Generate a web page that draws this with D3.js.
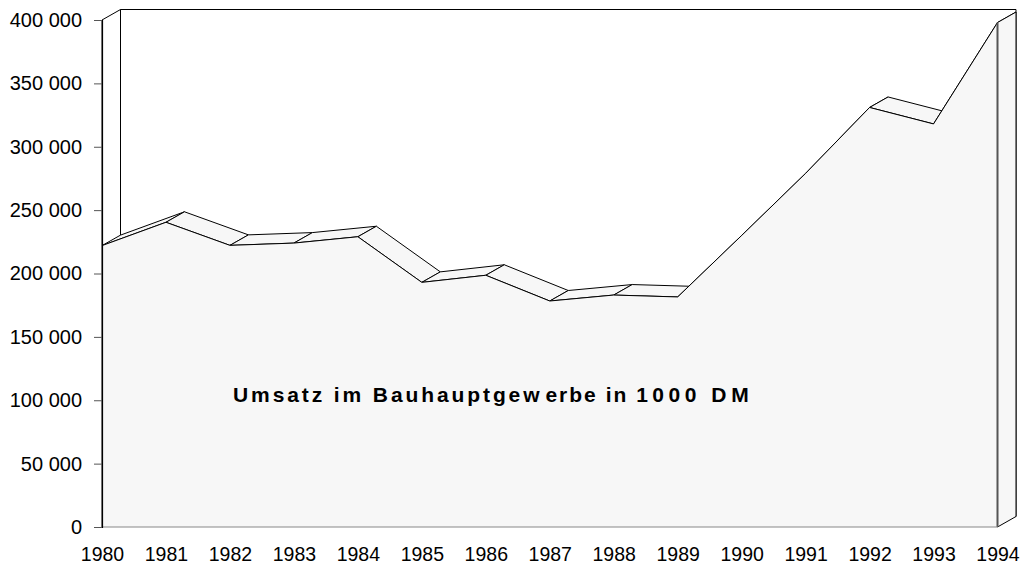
<!DOCTYPE html>
<html>
<head>
<meta charset="utf-8">
<script src="https://cdn.jsdelivr.net/npm/d3@7"></script>
<style>
  html, body { margin: 0; padding: 0; background: #ffffff; }
  svg { display: block; }
  text { font-family: "Liberation Sans", Arial, sans-serif; fill: #000; }
</style>
</head>
<body>
<svg id="chart" width="1024" height="567"></svg>
<script>
// ---- data ----
const years = [1980, 1981, 1982, 1983, 1984, 1985, 1986, 1987, 1988, 1989, 1990, 1991, 1992, 1993, 1994];
const values = [222000, 240400, 222200, 224000, 229000, 193000, 198600, 178300, 183000, 181500, 230000, 279000, 331000, 318000, 398000];
const yTicks = [0, 50000, 100000, 150000, 200000, 250000, 300000, 350000, 400000];
const titleParts = ["Umsatz im Bauhauptgew", "erbe in ", "1000 ", "DM"];

// ---- layout ----
const svg = d3.select("#chart");
const x = d3.scaleLinear().domain([1980, 1994]).range([102, 997.5]);
const y = d3.scaleLinear().domain([0, 400000]).range([527, 20]);
const dx = 18.5, dy = -10.5;
const fill = "#f7f7f7";

const x0 = x.range()[0], x1 = x.range()[1];
const yTop = y(400000), yBot = y(0);
const pts = years.map((yr, i) => [x(yr), y(values[i])]);
const back = p => [p[0] + dx, p[1] + dy];
const poly = arr => "M" + arr.map(p => p.join(",")).join("L") + "Z";

// back wall
svg.append("path")
  .attr("d", poly([[x0 + dx, yTop + dy], [x1 + dx, yTop + dy], [x1 + dx, yBot + dy], [x0 + dx, yBot + dy]]))
  .attr("fill", "#fff").attr("stroke", "#000").attr("stroke-width", 1);
// left side wall
svg.append("path")
  .attr("d", poly([[x0, yTop], [x0 + dx, yTop + dy], [x0 + dx, yBot + dy], [x0, yBot]]))
  .attr("fill", "#fff").attr("stroke", "#000").attr("stroke-width", 1);

// top faces of the 3D area
const segs = d3.pairs(pts);
svg.append("g").selectAll("path").data(segs).join("path")
  .attr("d", ([a, b]) => poly([a, b, back(b), back(a)]))
  .attr("fill", fill).attr("stroke", "#000").attr("stroke-width", 1).attr("stroke-linejoin", "round");

// front face
const area = d3.area().x(d => x(d.yr)).y0(y(0)).y1(d => y(d.v));
const rows = years.map((yr, i) => ({ yr, v: values[i] }));
svg.append("path").datum(rows).attr("d", area).attr("fill", fill).attr("stroke", "none");
svg.append("path").datum(rows)
  .attr("d", d3.line().x(d => x(d.yr)).y(d => y(d.v)))
  .attr("fill", "none").attr("stroke", "#000").attr("stroke-width", 1);

// right end cap
const last = pts[pts.length - 1];
svg.append("path")
  .attr("d", poly([last, back(last), [x1 + dx, yBot + dy], [x1, yBot]]))
  .attr("fill", fill).attr("stroke", "#000").attr("stroke-width", 1);
svg.append("line")
  .attr("x1", x1).attr("x2", x1).attr("y1", last[1]).attr("y2", yBot)
  .attr("stroke", "#555").attr("stroke-width", 2);

// bottom edge
svg.append("line")
  .attr("x1", x0).attr("x2", x1).attr("y1", yBot).attr("y2", yBot)
  .attr("stroke", "#888").attr("stroke-width", 1.2);

// y axis
const fmt = v => d3.format(",")(v).replace(/,/g, " ");
const yAxis = svg.append("g").attr("transform", `translate(${x0},0)`)
  .call(d3.axisLeft(y).tickValues(yTicks).tickSize(8).tickPadding(12).tickFormat(fmt));
yAxis.select(".domain").attr("stroke", "#000").attr("stroke-width", 1.2);
yAxis.selectAll(".tick line").attr("stroke", "#555");
yAxis.selectAll("text").style("font-size", "20px").attr("fill", "#000");

// x axis
const xAxis = svg.append("g").attr("transform", `translate(0,${yBot})`)
  .call(d3.axisBottom(x).tickValues(years).tickSize(0).tickPadding(0).tickFormat(d3.format("d")));
xAxis.select(".domain").remove();
xAxis.selectAll("text").attr("y", 33.5).attr("dy", 0).style("font-size", "19.5px").attr("fill", "#000");

// title inside area
const spacing = [2.9, 2, 4.5, 4.8];
const shifts = [0, 3, 0, 0];
const title = svg.append("text")
  .attr("x", 233).attr("y", 402)
  .style("font-size", "21px").style("font-weight", "bold");
title.selectAll("tspan").data(titleParts).join("tspan")
  .attr("dx", (d, i) => shifts[i])
  .style("letter-spacing", (d, i) => spacing[i] + "px")
  .text(d => d);
</script>
</body>
</html>
